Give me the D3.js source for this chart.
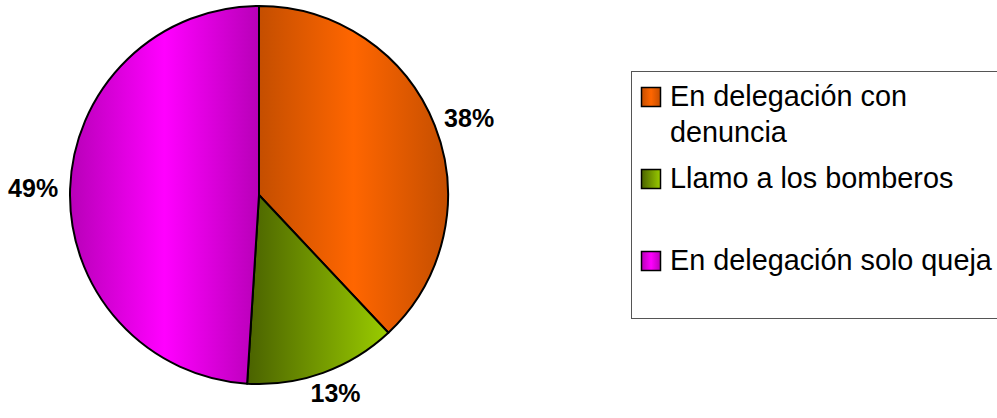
<!DOCTYPE html>
<html>
<head>
<meta charset="utf-8">
<script src="https://cdn.jsdelivr.net/npm/d3@7"></script>
<style>
  html, body { margin: 0; padding: 0; background: #ffffff; }
  svg { display: block; font-family: "Liberation Sans", Arial, sans-serif; }
</style>
</head>
<body>
<svg id="chart" width="997" height="418"></svg>
<script>
// Share of answers per category
const categories = ["En delegación con denuncia", "Llamo a los bomberos", "En delegación solo queja"];
const values = [38, 13, 49];
const valueLabels = ["38%", "13%", "49%"];

// Gradient stops per slice: [edge, highlight]
const fillDark = ["#c44e00", "#4a6200", "#b800b8"];
const fillLight = ["#ff6600", "#9acc00", "#ff00ff"];
const gradientKind = ["center", "sweep", "center"];

const svg = d3.select("#chart");
const W = 997, H = 418;
const cx = 259, cy = 195, radius = 189;

// Gradient definitions
const defs = svg.append("defs");
categories.forEach((c, i) => {
  const g = defs.append("linearGradient")
    .attr("id", "grad" + i)
    .attr("x1", "0").attr("y1", "0").attr("x2", "1").attr("y2", "0");
  if (gradientKind[i] === "center") {
    g.append("stop").attr("offset", "0").attr("stop-color", fillDark[i]);
    g.append("stop").attr("offset", "0.5").attr("stop-color", fillLight[i]);
    g.append("stop").attr("offset", "1").attr("stop-color", fillDark[i]);
  } else {
    g.append("stop").attr("offset", "0").attr("stop-color", fillDark[i]);
    g.append("stop").attr("offset", "1").attr("stop-color", fillLight[i]);
  }
});

// Pie slices, clockwise from twelve o'clock
const pie = d3.pie().sort(null).value(d => d)(values);
const arc = d3.arc().innerRadius(0).outerRadius(radius);

const gPie = svg.append("g").attr("transform", `translate(${cx},${cy})`);
gPie.selectAll("path.slice")
  .data(pie)
  .join("path")
  .attr("class", "slice")
  .attr("d", arc)
  .attr("fill", (d, i) => `url(#grad${i})`)
  .attr("stroke", "#000")
  .attr("stroke-width", 2)
  .attr("stroke-linejoin", "round");

// Percentage labels outside the pie: the label box is pushed outward
// from an anchor point just beyond the rim, along the slice's mid angle
const labelGap = 12, labelHalfW = 25, labelHalfH = 9;
function labelCenter(d) {
  const a = (d.startAngle + d.endAngle) / 2;
  const ux = Math.sin(a), uy = -Math.cos(a);
  const r = radius + labelGap;
  return [ux * r + ux * labelHalfW, uy * r + uy * labelHalfH];
}
gPie.selectAll("text.pct")
  .data(pie)
  .join("text")
  .attr("class", "pct")
  .attr("x", d => labelCenter(d)[0])
  .attr("y", d => labelCenter(d)[1])
  .attr("dy", "0.36em")
  .attr("text-anchor", "middle")
  .attr("font-size", 25)
  .attr("font-weight", "bold")
  .attr("fill", "#000")
  .text((d, i) => valueLabels[i]);

// Legend
const legX = 631, legY = 71, legH = 247;
svg.append("rect")
  .attr("x", legX + 0.5).attr("y", legY + 0.5)
  .attr("width", W - legX + 10).attr("height", legH)
  .attr("fill", "#fff")
  .attr("stroke", "#555")
  .attr("stroke-width", 1);

const swatchX = legX + 10, swatchSize = 20, textX = legX + 39;
const rowStep = 82, firstRowTop = legY + 16, lineStep = 36;
const maxTextWidth = W - textX - 1;

const legendRows = svg.append("g").selectAll("g")
  .data(categories)
  .join("g")
  .attr("transform", (d, i) => `translate(0,${firstRowTop + i * rowStep})`);

legendRows.append("rect")
  .attr("x", swatchX + 0.5).attr("y", 0.5)
  .attr("width", swatchSize - 1).attr("height", swatchSize - 1)
  .attr("fill", (d, i) => `url(#grad${i})`)
  .attr("stroke", "#000")
  .attr("stroke-width", 1.5);

legendRows.each(function (label) {
  const t = d3.select(this).append("text")
    .attr("x", textX).attr("y", 19)
    .attr("font-size", 28.8)
    .attr("fill", "#000");
  // word-wrap the label into the legend width
  const words = label.split(" ");
  let line = [];
  let tspan = t.append("tspan").attr("x", textX).attr("y", 19);
  let lineNo = 0;
  words.forEach(w => {
    line.push(w);
    tspan.text(line.join(" "));
    if (tspan.node().getComputedTextLength() > maxTextWidth && line.length > 1) {
      line.pop();
      tspan.text(line.join(" "));
      line = [w];
      lineNo++;
      tspan = t.append("tspan").attr("x", textX).attr("y", 19 + lineNo * lineStep).text(w);
    }
  });
});
</script>
</body>
</html>
